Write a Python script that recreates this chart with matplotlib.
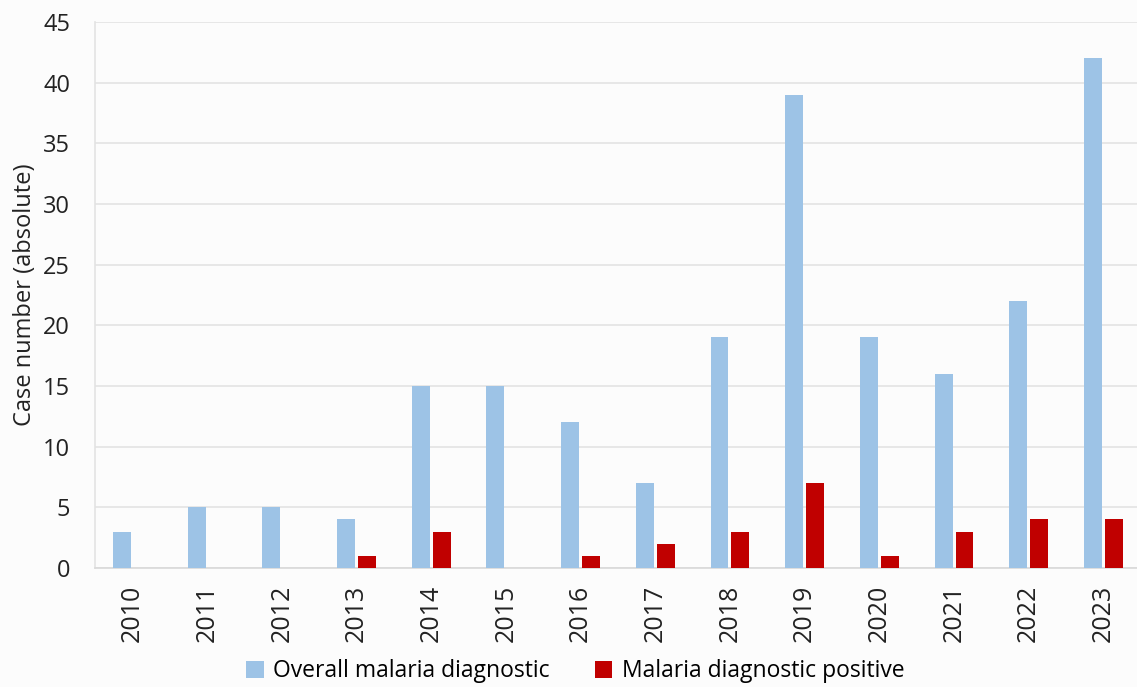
import numpy as np
import matplotlib
matplotlib.use("Agg")
import matplotlib.pyplot as plt

# yearly case counts
years = ["2010", "2011", "2012", "2013", "2014", "2015", "2016",
         "2017", "2018", "2019", "2020", "2021", "2022", "2023"]
overall = [3, 5, 5, 4, 15, 15, 12, 7, 19, 39, 19, 16, 22, 42]
positive = [0, 0, 0, 1, 3, 0, 1, 2, 3, 7, 1, 3, 4, 4]

plt.rcParams['font.family'] = ['Open Sans', 'DejaVu Sans']

fig = plt.figure( figsize=( 11.37, 6.87 ), dpi=100 )
fig.patch.set_facecolor( '#FCFCFC' )
ax = fig.add_axes([ 95 / 1137, 119 / 687, 1042 / 1137, 546 / 687 ])
ax.set_facecolor( '#FCFCFC' )

x = np.arange( len( years ) )
w = 0.24
ax.bar( x - 0.14, overall, width=w, color='#9DC3E6', label='Overall malaria diagnostic', zorder=3 )
ax.bar( x + 0.14, positive, width=w, color='#C00000', label='Malaria diagnostic positive', zorder=3 )

ax.set_xlim( -0.5, -0.5 + 1042 / 74.7 )
ax.set_ylim( 0, 45 )
ax.set_yticks( range( 0, 46, 5 ) )
ax.set_xticks( x )
ax.set_xticklabels( years, rotation=90, fontsize=18 )
ax.tick_params( axis='y', length=0, pad=18, labelsize=17, colors='#222222' )
ax.tick_params( axis='x', length=0, pad=12, colors='#222222' )

ax.grid( axis='y', color='#E3E3E3', linewidth=1.2, zorder=0 )
for side in ['top', 'right']:
    ax.spines[side].set_visible( False )
ax.spines['left'].set_color( '#E3E3E3' )
ax.spines['bottom'].set_color( '#D9D9D9' )
ax.spines['left'].set_linewidth( 1.2 )
ax.spines['bottom'].set_linewidth( 1.2 )

ax.set_ylabel( 'Case number (absolute)', fontsize=17, color='#222222' )
ax.yaxis.set_label_coords( -0.056, 0.5 )

fig.legend( loc='center', bbox_to_anchor=( 0.506, 0.023 ), ncol=2, frameon=False,
            fontsize=16.5, handlelength=0.75, handleheight=0.75, handletextpad=0.4,
            columnspacing=2.0 )

fig.savefig( 'out.png', dpi=100, facecolor=fig.get_facecolor() )
